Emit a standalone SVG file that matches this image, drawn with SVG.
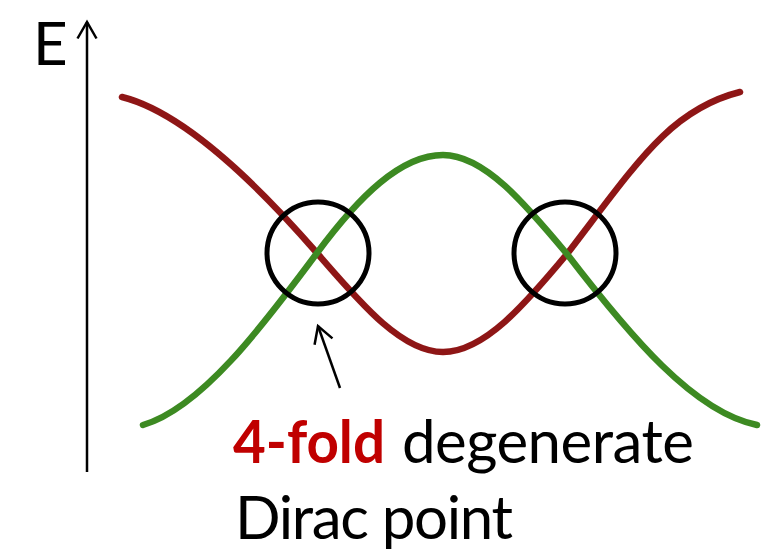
<svg xmlns="http://www.w3.org/2000/svg" width="771" height="558" viewBox="0 0 771 558">
  <style>
    .band { fill: none; stroke-width: 6.5; stroke-linecap: round; stroke-linejoin: round; filter: url(#soft); }
    .red { stroke: #8e1616; }
    .green { stroke: #3c8a22; }
    .ring { fill: none; stroke: #000; stroke-width: 5; }
    .conn { fill: none; stroke: #000; stroke-width: 2.5; marker-end: url(#ah); }
    .lbl { font-family: Lato, "Liberation Sans", sans-serif; font-size: 60px; fill: #000; }
    .bold { font-weight: bold; fill: #c00000; }
  </style>
  <defs>
    <filter id="soft" x="-5%" y="-5%" width="110%" height="110%">
      <feGaussianBlur stdDeviation="0.6"/>
    </filter>
    <marker id="ah" markerUnits="userSpaceOnUse" viewBox="-20 -12 24 24" markerWidth="24" markerHeight="24" refX="0" refY="0" orient="auto" overflow="visible">
      <path d="M-16.5,-9.5 L0,0 L-16.5,9.5" fill="none" stroke="#000" stroke-width="2.5"/>
    </marker>
  </defs>
  <rect width="771" height="558" fill="#fff"/>

  <g id="red-band">
    <path class="band red" d="M122,97 C182,112 252,178.25 317,253 C359,301.3 401,352 443,352 C484.3,352 525.7,303.6 567,254 C637,163 670,109.5 740,92"/>
  </g>
  <g id="green-band">
    <path class="band green" d="M143,425 C201,408 262,327 317,253 C359,196.3 401,155 443,155 C484.3,155 525.7,204.4 567,254 C630,336 694,412.4 757,425"/>
  </g>

  <g id="dirac-left">
    <circle class="ring" cx="318" cy="253" r="51"/>
  </g>
  <g id="dirac-right">
    <circle class="ring" cx="565" cy="253" r="51"/>
  </g>

  <g id="axis-label">
    <text class="lbl" x="33" y="65" font-size="56">E</text>
  </g>

  <g id="caption">
    <text class="lbl bold" x="233" y="463" textLength="152" lengthAdjust="spacingAndGlyphs">4-fold</text>
    <text class="lbl" x="402" y="463" textLength="292">degenerate</text>
    <text class="lbl" x="235" y="539" textLength="278">Dirac point</text>
  </g>

  <g id="connectors">
    <line id="energy-axis" class="conn" x1="87" y1="472" x2="87" y2="22"/>
    <line id="pointer" class="conn" x1="340" y1="388" x2="318" y2="326"/>
  </g>
</svg>
